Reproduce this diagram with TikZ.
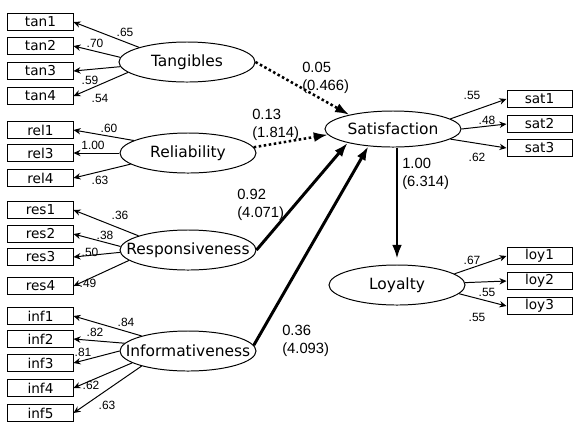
\documentclass[tikz,border=0pt]{standalone}
\usepackage{fontspec}
\setmainfont{DejaVu Sans}
\newfontfamily\numfont{Liberation Sans}
\usepackage{tikz}
\usetikzlibrary{arrows.meta}
\usetikzlibrary{shapes.geometric}

\newcommand{\lname}[1]{\makebox[0pt]{#1}}

\begin{document}
\begin{tikzpicture}[x=0.025cm,y=-0.025cm,>/.tip={Stealth[length=5pt,width=4.5pt]},
	obs/.style={draw,line width=0.7pt,minimum width=1.625cm,minimum height=0.44cm,inner sep=0pt,font=\fontsize{9.7}{11}\selectfont},
	lat/.style={draw,ellipse,line width=0.7pt,minimum width=3.4cm,minimum height=1cm,inner sep=0pt,font=\fontsize{11}{13}\selectfont},
	ld/.style={inner sep=0pt,font=\numfont\fontsize{8.5}{10}\selectfont},
	coef/.style={anchor=west,align=left,inner sep=0pt,font=\numfont\fontsize{10.5}{13}\selectfont},
	strong/.style={line width=2.1pt,-{Latex[length=10pt,width=7pt]}},
	weak/.style={line width=1.8pt,dash pattern=on 1.8pt off 1.8pt,-{Latex[length=10pt,width=7pt]}}]
\useasboundingbox (0,0) rectangle (573,424);

\draw (187,62) node[lat] (tang) {\lname{Tangibles}};
\draw (188,153) node[lat] (reli) {\lname{Reliability}};
\draw (188,250) node[lat] (resp) {\lname{Responsiveness}};
\draw (188,351) node[lat] (info) {\lname{Informativeness}};
\draw (393,129) node[lat,minimum height=0.9cm] (satis) {\lname{Satisfaction}};
\draw (397,285) node[lat] (loyal) {\lname{Loyalty}};

\foreach \n/\y in {tan1/22,tan2/46,tan3/71,tan4/96,rel1/130,rel3/153,rel4/178,res1/210,res2/234,res3/257,res4/286,inf1/316,inf2/339,inf3/363,inf4/388,inf5/413}
	\draw (40.5,\y) node[obs] (\n) {\n};
\foreach \n/\y in {sat1/99,sat2/124,sat3/148,loy1/256,loy2/281,loy3/306}
	\draw (539.5,\y) node[obs] (\n) {\n};

% loadings
\foreach \src/\n/\ang/\lab/\lx/\ly in {tang/tan1/163/.65/125/32,tang/tan2/176/.70/95/43,tang/tan3/184/.59/90/80,tang/tan4/190/.54/100/98,
	reli/rel1/167/.60/109/128,reli/rel3/180/1.00/93/145,reli/rel4/191/.63/100/180,
	resp/res1/164/.36/120/215,resp/res2/177/.38/105/235,resp/res3/182/.50/90/252,resp/res4/190/.49/88/283,
	info/inf1/162/.84/126/322,info/inf2/173/.82/95/332,info/inf3/180/.81/83/352,info/inf4/192/.62/91/385,info/inf5/198/.63/107/405}
{
	\draw[->,line width=0.7pt] (\src.\ang) -- (\n.east);
	\draw (\lx,\ly) node[ld] (l\n) {\lab};
}
\foreach \src/\n/\ang/\lab/\lx/\ly in {satis/sat1/10/.55/472/95,satis/sat2/0/.48/487/120,satis/sat3/350/.62/477/157,
	loyal/loy1/11/.67/472/260,loyal/loy2/2/.55/487/292,loyal/loy3/352/.55/477/317}
{
	\draw[->,line width=0.7pt] (\src.\ang) -- (\n.west);
	\draw (\lx,\ly) node[ld] (l\n) {\lab};
}

% structural paths
\draw[weak] (tang.east) -- (satis.162);
\draw[weak] (reli.5) -- (satis.185);
\draw[strong] (resp.east) -- (satis.197);
\draw[strong] (info.5) -- (satis.215);
\draw[strong,shorten >=4pt] (satis.south -| loyal.north) -- (loyal.north);

\draw (302,78) node[coef] (c1) {0.05\\(0.466)};
\draw (252,125) node[coef] (c2) {0.13\\(1.814)};
\draw (237,205) node[coef] (c3) {0.92\\(4.071)};
\draw (282,341) node[coef] (c4) {0.36\\(4.093)};
\draw (402,174) node[coef] (c5) {1.00\\(6.314)};
\end{tikzpicture}
\end{document}
